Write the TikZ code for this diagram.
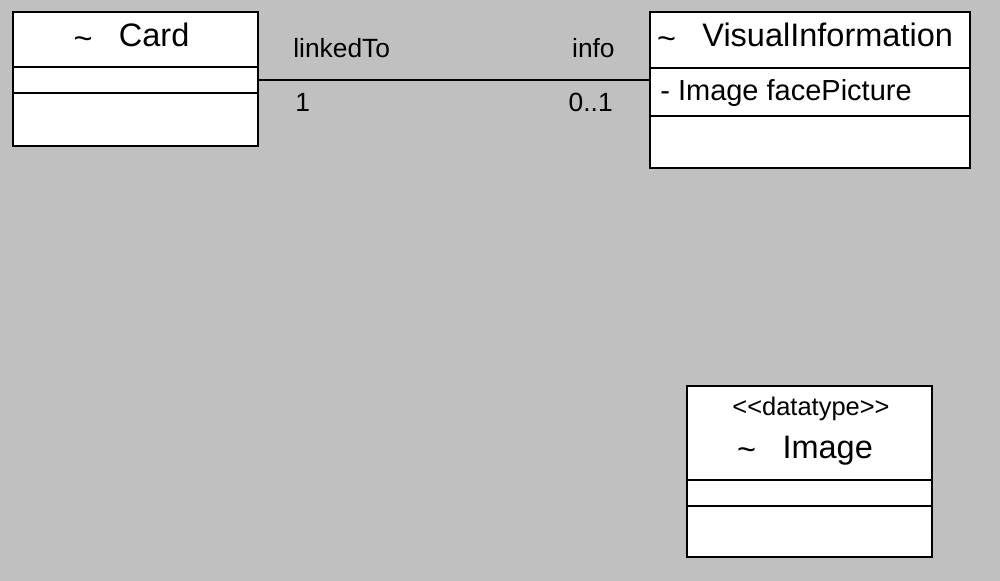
\documentclass[tikz,border=0pt]{standalone}
\usepackage{fontspec}
\setmainfont{Liberation Sans}
\usetikzlibrary{positioning}

\newcommand{\titlefont}{\fontsize{18.5}{22}\selectfont}
\newcommand{\attrfont}{\fontsize{16.5}{20}\selectfont}
\newcommand{\rolefont}{\fontsize{15}{18}\selectfont}
\newcommand{\stereofont}{\fontsize{14.5}{17}\selectfont}
\newcommand{\pkgmark}{\raisebox{-1.5pt}{\textasciitilde}\hspace{15pt}}

\tikzset{
	part/.style={draw=black, fill=white, line width=1pt, inner sep=0pt, outer sep=0pt},
	role/.style={inner sep=0pt, font=\rolefont},
}

\begin{document}
\begin{tikzpicture}[x=0.02cm, y=-0.02cm]
	
	\fill[fill={rgb,255:red,192;green,192;blue,192}] (0,0) rectangle (1000,581);
	
	% Card
	\node[part, minimum width=4.9cm, minimum height=1.1cm] (cardtitle) at (135.5, 39.5) {};
	\node[part, minimum width=4.9cm, minimum height=0.52cm, below=0pt of cardtitle] (cardattr) {};
	\node[part, minimum width=4.9cm, minimum height=1.06cm, below=0pt of cardattr] (cardops) {};
	\node[anchor=base, inner sep=0pt, font=\titlefont] (cardname) at (131.5, 47) {\pkgmark Card};
	
	% VisualInformation
	\node[part, minimum width=6.4cm, minimum height=1.12cm] (vistitle) at (810, 40) {};
	\node[part, minimum width=6.4cm, minimum height=0.96cm, below=0pt of vistitle] (visattr) {};
	\node[part, minimum width=6.4cm, minimum height=1.04cm, below=0pt of visattr] (visops) {};
	\node[anchor=base, inner sep=0pt, font=\titlefont] (visname) at (805, 47) {\pkgmark VisualInformation};
	\node[anchor=base west, inner sep=0pt, font=\attrfont] (visfield) at (660, 100) {- Image facePicture};
	
	% Image
	\node[part, minimum width=4.9cm, minimum height=1.88cm] (imgtitle) at (809.5, 433) {};
	\node[part, minimum width=4.9cm, minimum height=0.52cm, below=0pt of imgtitle] (imgattr) {};
	\node[part, minimum width=4.9cm, minimum height=1.02cm, below=0pt of imgattr] (imgops) {};
	\node[anchor=base, inner sep=0pt, font=\stereofont] (imgstereo) at (811, 415) {<{}<datatype>{}>};
	\node[anchor=base, inner sep=0pt, font=\titlefont] (imgname) at (805, 458) {\pkgmark Image};
	
	% association
	\draw[line width=1pt] (cardattr.east) -- (cardattr.east -| visattr.west);
	\node[role, anchor=base west] (linkedto) at (293, 58) {linkedTo};
	\node[role, anchor=base west] (multcard) at (295, 112) {1};
	\node[role, anchor=base east] (info) at (615, 58) {info};
	\node[role, anchor=base east] (multvis) at (613, 112) {0..1};
	
\end{tikzpicture}
\end{document}
